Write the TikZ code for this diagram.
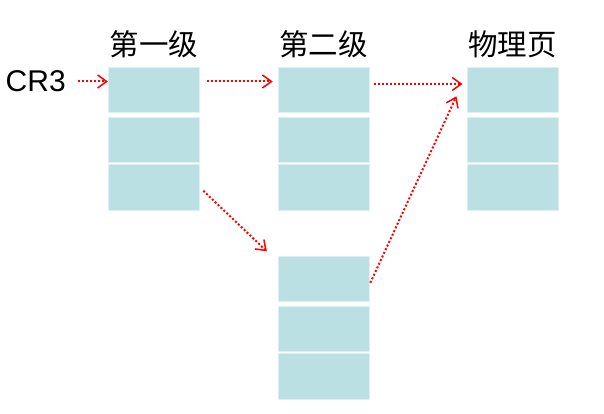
\documentclass[tikz,border=0pt]{standalone}
\usepackage{fontspec}
\setmainfont{Liberation Sans}
\newfontfamily\cjk{Noto Sans CJK SC}
\usepackage{xcolor}
\usetikzlibrary{positioning, arrows.meta}

\definecolor{cellfill}{RGB}{187,224,227}
\definecolor{cellline}{RGB}{222,240,242}

\begin{document}
\begin{tikzpicture}[
    x=1pt, y=1pt,
    cell/.style={
        rectangle,
        draw=cellline,
        line width=0.8pt,
        fill=cellfill,
        minimum width=91pt,
        minimum height=45pt,
        inner sep=0pt
    },
    title/.style={
        font=\cjk\fontsize{29.5}{32}\selectfont,
        inner sep=2pt
    },
    link/.style={
        red,
        line width=2pt,
        dash pattern=on 2pt off 2pt,
        -{Straight Barb[length=9pt,width=13pt,line width=1.5pt]}
    }
]
\useasboundingbox (0,0) rectangle (604,414);

% Level 1
\node (l1a) [cell] at (153.8,324.5) {};
\node (l1b) [cell, below=4.5pt of l1a] {};
\node (l1c) [cell, below=1.2pt of l1b, minimum height=46pt] {};

% Level 2
\node (l2a) [cell, right=78pt of l1a] {};
\node (l2b) [cell, below=4.5pt of l2a] {};
\node (l2c) [cell, below=1.2pt of l2b, minimum height=46pt] {};

% Physical page
\node (pga) [cell, right=97pt of l2a] {};
\node (pgb) [cell, below=4.5pt of pga] {};
\node (pgc) [cell, below=1.2pt of pgb, minimum height=46pt] {};

% Second level table, lower
\node (l2d) [cell, below=45pt of l2c] {};
\node (l2e) [cell, below=4.5pt of l2d] {};
\node (l2f) [cell, below=1.2pt of l2e, minimum height=46pt] {};

% Titles
\node (t1) [title, above=6pt of l1a] {第一级};
\node (t2) [title, above=6pt of l2a] {第二级};
\node (t3) [title, above=6pt of pga] {物理页};

% Register
\node (cr3) [left=40pt of l1a, yshift=8pt, font=\fontsize{30}{32}\selectfont, inner sep=2pt] {CR3};

% Connections
\draw [link, shorten <=10pt] (cr3.east) -- (cr3 -| l1a.west);
\draw [link, shorten <=7pt, shorten >=5pt] ([yshift=8pt]l1a.east) -- ([yshift=8pt]l2a.west);
\draw [link, shorten <=4pt, shorten >=4pt] ([yshift=5.5pt]l2a.east) -- ([yshift=5.5pt]pga.west);
\draw [link, shorten <=5pt, shorten >=15pt] (l1c.east) -- ([yshift=-6pt]l2d.north west);
\draw [link, shorten <=2pt, shorten >=24pt] ([yshift=-6pt]l2d.east) -- ([yshift=15pt]pga.west);

\end{tikzpicture}
\end{document}
